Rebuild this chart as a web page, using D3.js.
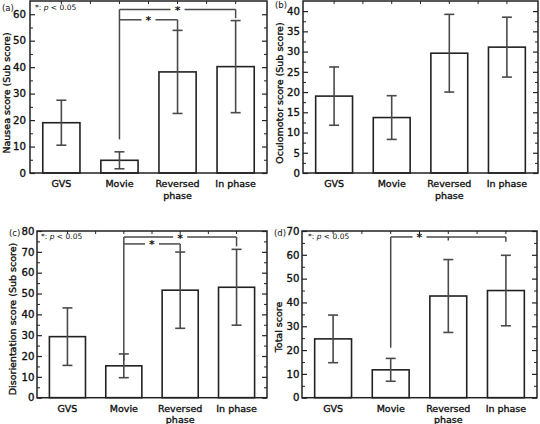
<!DOCTYPE html>
<html><head><meta charset="utf-8">
<script src="https://cdn.jsdelivr.net/npm/d3@7"></script>
<style>body{margin:0;background:#fff}svg{display:block;font-family:"DejaVu Sans",sans-serif}</style>
</head><body>
<svg id="c" width="540" height="424"></svg>
<script>
const categories = ["GVS", "Movie", "Reversed\nphase", "In phase"];
const nauseaMean = [19, 4.8, 38.2, 40.2];
const nauseaSD = [8.5, 3.2, 15.7, 17.4];
const oculoMean = [19, 13.7, 29.6, 31.1];
const oculoSD = [7.2, 5.4, 9.6, 7.4];
const disorMean = [29.3, 15.3, 51.6, 53];
const disorSD = [13.8, 5.7, 18.3, 18.2];
const totalMean = [24.7, 11.7, 42.7, 45];
const totalSD = [10, 4.8, 15.3, 14.8];

const panels = [
  {label:"(a)", title:"Nausea score (Sub score)", mean:nauseaMean, sd:nauseaSD, ymax:65, major:10,
   x0:30, x1:267, y0:1, y1:173, titleX:7, titleY:93, lab:[2,11], legend:[35,10], pad:4,
   sig:{base:12.7, brackets:[{to:3, y:61.8, drop:58.5},{to:2, y:57.9, drop:54}]}},
  {label:"(b)", title:"Oculomotor score (Sub score)", mean:oculoMean, sd:oculoSD, ymax:42.5, major:5,
   x0:303, x1:538, y0:1, y1:173, titleX:280, titleY:93, lab:[275,8], legend:null, pad:3, sig:null},
  {label:"(c)", title:"Disorientation score (Sub score)", mean:disorMean, sd:disorSD, ymax:80, major:10,
   x0:37, x1:267, y0:231, y1:397.7, titleX:13, titleY:319, lab:[9,236], legend:[41,239], pad:2.5,
   sig:{base:17.9, brackets:[{to:3, y:77.1, drop:72.6},{to:2, y:73.8, drop:70}]}},
  {label:"(d)", title:"Total score", mean:totalMean, sd:totalSD, ymax:70, major:10,
   x0:302, x1:537, y0:231, y1:397.7, titleX:279, titleY:327, lab:[274,236], legend:[308,239], pad:2.5,
   sig:{base:21, brackets:[{to:3, y:67.5, drop:65.5, mid:2, midDrop:66, starBetween:[1,2]}]}}
];

const svg = d3.select("#c");
const dark = "#222", grey = "#4a4a4a";
const heavy = sel => sel.attr("fill","#111").attr("stroke","#111").attr("stroke-width",0.35);

panels.forEach(p => {
  const g = svg.append("g");
  const x = d3.scaleBand().domain(categories).range([p.x0, p.x1]).paddingInner(0.36).paddingOuter(0.22);
  const y = d3.scaleLinear().domain([0, p.ymax]).range([p.y1, p.y0]);
  const majors = d3.range(0, p.ymax + 1e-9, p.major);
  const minors = d3.range(p.major/2, p.ymax, p.major).filter(v => !majors.includes(v));

  g.selectAll("rect.bar").data(p.mean).join("rect")
    .attr("x", (d,i) => x(categories[i])).attr("width", x.bandwidth())
    .attr("y", d => y(d)).attr("height", d => y(0) - y(d))
    .attr("fill", "#fff").attr("stroke", dark).attr("stroke-width", 1.6);

  p.mean.forEach((m,i) => {
    const cx = x(categories[i]) + x.bandwidth()/2;
    const lo = y(m - p.sd[i]), hi = y(m + p.sd[i]);
    g.append("line").attr("x1",cx).attr("x2",cx).attr("y1",lo).attr("y2",hi).attr("stroke",grey).attr("stroke-width",1.6);
    [lo,hi].forEach(yy => g.append("line").attr("x1",cx-5).attr("x2",cx+5).attr("y1",yy).attr("y2",yy).attr("stroke",grey).attr("stroke-width",1.6));
  });

  g.append("rect").attr("x",p.x0).attr("y",p.y0).attr("width",p.x1-p.x0).attr("height",p.y1-p.y0)
    .attr("fill","none").attr("stroke",dark).attr("stroke-width",1.5);

  const axL = d3.axisLeft(y).tickValues(majors).tickSizeInner(-5).tickSizeOuter(0).tickPadding(p.pad).tickFormat(d3.format("d"));
  const gl = g.append("g").attr("transform",`translate(${p.x0},0)`).call(axL);
  gl.select(".domain").remove();
  gl.selectAll("line").attr("stroke",dark).attr("stroke-width",1.2);
  gl.selectAll("text").attr("font-size",10.2).attr("font-family","DejaVu Sans").call(heavy);
  const glm = g.append("g").attr("transform",`translate(${p.x0},0)`).call(d3.axisLeft(y).tickValues(minors).tickSizeInner(-3).tickSizeOuter(0).tickFormat(""));
  glm.select(".domain").remove(); glm.selectAll("line").attr("stroke",dark);
  const gr = g.append("g").attr("transform",`translate(${p.x1},0)`).call(d3.axisRight(y).tickValues(majors).tickSizeInner(-5).tickSizeOuter(0).tickFormat(""));
  gr.select(".domain").remove(); gr.selectAll("line").attr("stroke",dark).attr("stroke-width",1.2);
  const grm = g.append("g").attr("transform",`translate(${p.x1},0)`).call(d3.axisRight(y).tickValues(minors).tickSizeInner(-3).tickSizeOuter(0).tickFormat(""));
  grm.select(".domain").remove(); grm.selectAll("line").attr("stroke",dark);

  const step = x.step();
  const topPos = [];
  categories.forEach((c,i) => { const cx = x(c)+x.bandwidth()/2; topPos.push(cx); if (i<categories.length-1) topPos.push(cx+step/2); });
  g.selectAll("line.top").data(topPos).join("line").attr("x1",d=>d).attr("x2",d=>d)
    .attr("y1",p.y0).attr("y2",p.y0+3).attr("stroke",dark).attr("stroke-width",1);

  categories.forEach(c => {
    const cx = x(c)+x.bandwidth()/2;
    const lines = c.split("\n");
    const t = g.append("text").attr("x",cx).attr("y",p.y1+14).attr("text-anchor","middle")
      .attr("font-size",9.5).call(heavy);
    lines.forEach((l,k) => t.append("tspan").attr("x",cx).attr("dy",k?11.5:0).text(l));
  });

  g.append("text").attr("transform",`translate(${p.titleX},${p.titleY}) rotate(-90)`)
    .attr("text-anchor","middle").attr("dy","0.35em").attr("font-size",9.5).call(heavy).text(p.title);

  g.append("text").attr("x",p.lab[0]).attr("y",p.lab[1]).attr("font-size",8.5).attr("fill","#111").text(p.label);

  if (p.legend) {
    const t = g.append("text").attr("x",p.legend[0]).attr("y",p.legend[1]).attr("font-size",7.5).attr("fill","#111");
    t.append("tspan").text("*: ");
    t.append("tspan").attr("font-style","italic").text("p");
    t.append("tspan").text(" < 0.05");
  }

  if (p.sig) {
    const cxOf = i => x(categories[i]) + x.bandwidth()/2;
    const mx = cxOf(1);
    const topY = d3.max(p.sig.brackets, b=>b.y);
    const sg = g.append("g").attr("stroke",grey).attr("stroke-width",1.5).attr("fill","none");
    sg.append("line").attr("x1",mx).attr("x2",mx).attr("y1",y(p.sig.base)).attr("y2",y(topY));
    p.sig.brackets.forEach(b => {
      const ex = cxOf(b.to);
      const starX = b.starBetween ? (cxOf(b.starBetween[0]) + cxOf(b.starBetween[1]))/2 : (mx + ex)/2;
      const gap = 7;
      sg.append("line").attr("x1",mx).attr("x2",starX-gap).attr("y1",y(b.y)).attr("y2",y(b.y));
      sg.append("line").attr("x1",starX+gap).attr("x2",ex).attr("y1",y(b.y)).attr("y2",y(b.y));
      sg.append("line").attr("x1",ex).attr("x2",ex).attr("y1",y(b.y)).attr("y2",y(b.drop));
      if (b.mid !== undefined) {
        const mxx = cxOf(b.mid);
        sg.append("line").attr("x1",mxx).attr("x2",mxx).attr("y1",y(b.y)).attr("y2",y(b.midDrop));
      }
      g.append("text").attr("x",starX).attr("y",y(b.y)+4.5).attr("text-anchor","middle")
        .attr("font-size",11).attr("font-weight","bold").attr("fill","#111").text("*");
    });
  }
});
</script>
</body></html>
